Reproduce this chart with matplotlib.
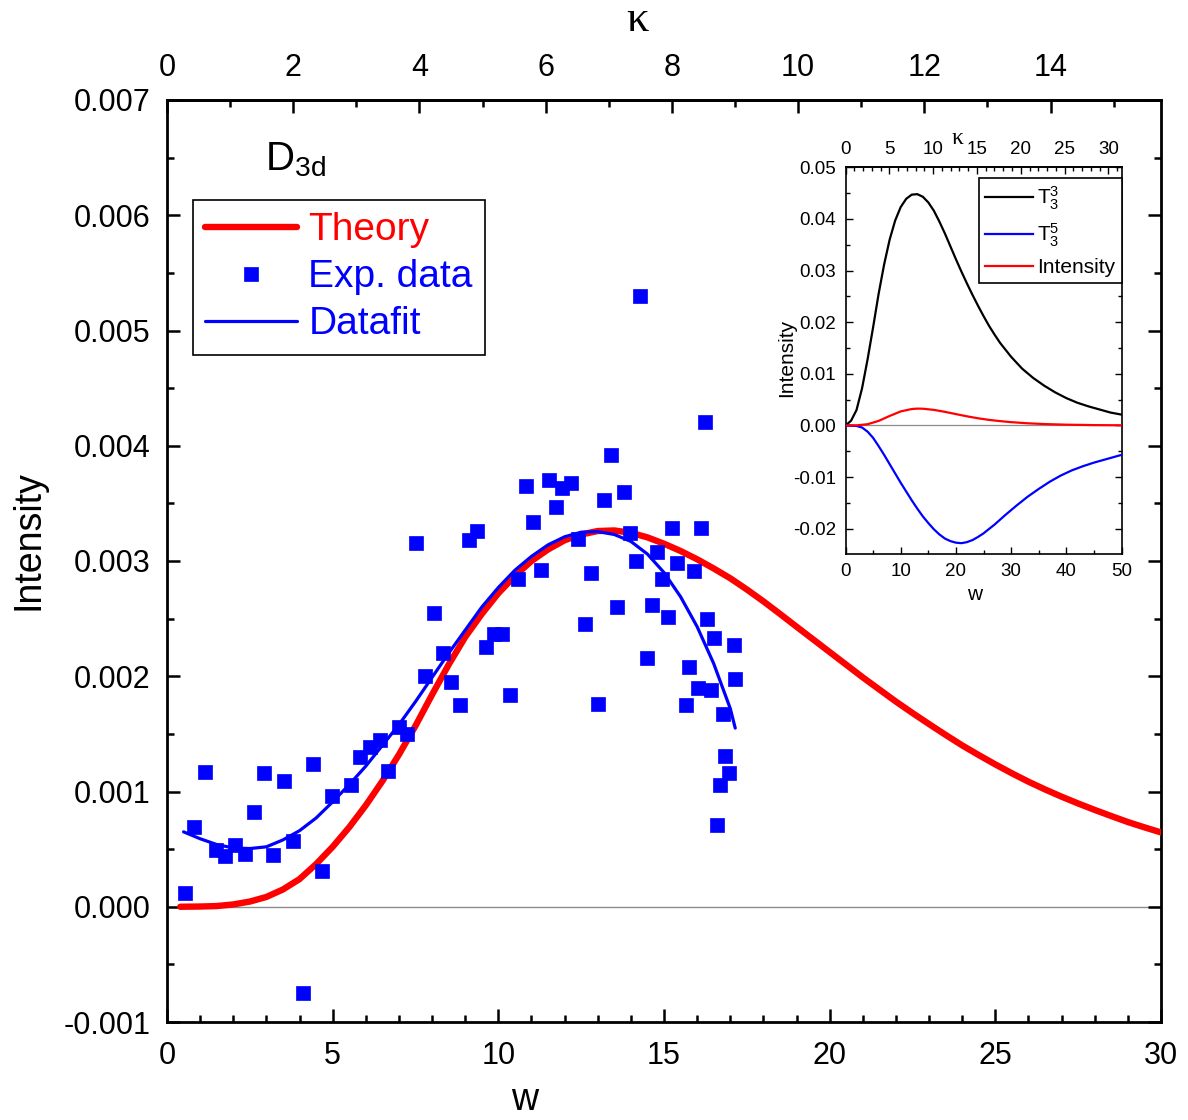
import numpy as np
import matplotlib
matplotlib.use("Agg")
import matplotlib.pyplot as plt
from matplotlib.ticker import MultipleLocator, FormatStrFormatter, FixedLocator

plt.rcParams['font.family'] = ['Liberation Sans', 'DejaVu Sans']

# ---------------- data (main panel, intensities in units of 1e-3) ----------------
theory_w = [0.4, 1.0, 1.5, 2.0, 2.5, 3.0, 3.5, 4.0, 4.5, 5.0, 5.5, 6.0, 6.5, 7.0, 7.5,
            8.0, 8.5, 9.0, 9.5, 10.0, 10.5, 11.0, 11.5, 12.0, 12.5, 13.0, 13.5, 14.0,
            14.5, 15.0, 15.5, 16.0, 16.5, 17.0, 17.5, 18.0, 18.5, 19.0, 19.5, 20.0,
            20.5, 21.0, 21.5, 22.0, 22.5, 23.0, 23.5, 24.0, 24.5, 25.0, 25.5, 26.0,
            26.5, 27.0, 27.5, 28.0, 28.5, 29.0, 29.5, 30.0]
theory_milli = [0.0, 0.002, 0.006, 0.02, 0.045, 0.085, 0.15, 0.24, 0.37, 0.52, 0.69, 0.88,
                1.09, 1.32, 1.57, 1.84, 2.10, 2.34, 2.54, 2.72, 2.87, 3.00, 3.10, 3.18,
                3.23, 3.26, 3.265, 3.245, 3.205, 3.15, 3.087, 3.015, 2.935, 2.85, 2.753,
                2.65, 2.541, 2.43, 2.32, 2.21, 2.10, 1.99, 1.885, 1.78, 1.681, 1.585,
                1.491, 1.40, 1.316, 1.235, 1.158, 1.085, 1.018, 0.955, 0.896, 0.84,
                0.787, 0.735, 0.689, 0.645]

fit_w = [0.5, 1.0, 1.5, 2.0, 2.5, 3.0, 3.5, 4.0, 4.5, 5.0, 5.5, 6.0, 6.5, 7.0, 7.5, 8.0,
         8.5, 9.0, 9.5, 10.0, 10.5, 11.0, 11.5, 12.0, 12.5, 13.0, 13.5, 14.0, 14.5,
         15.0, 15.5, 16.0, 16.5, 17.0, 17.15]
fit_milli = [0.65, 0.59, 0.54, 0.51, 0.505, 0.52, 0.58, 0.66, 0.77, 0.91, 1.06, 1.22,
             1.40, 1.58, 1.78, 1.99, 2.20, 2.40, 2.60, 2.77, 2.92, 3.04, 3.14, 3.21,
             3.25, 3.255, 3.23, 3.17, 3.06, 2.90, 2.69, 2.43, 2.11, 1.72, 1.55]

exp_w = [0.54, 0.82, 1.15, 1.48, 1.75, 2.05, 2.35, 2.62, 2.94, 3.21, 3.53, 3.81, 4.09,
         4.41, 4.69, 4.97, 5.55, 5.82, 6.12, 6.42, 6.66, 7.00, 7.25, 7.53, 7.78, 8.05,
         8.34, 8.57, 8.84, 9.12, 9.37, 9.62, 9.87, 10.10, 10.36, 10.60, 10.83, 11.05,
         11.28, 11.52, 11.75, 11.93, 12.19, 12.39, 12.63, 12.81, 13.01, 13.18, 13.41,
         13.59, 13.78, 13.97, 14.15, 14.28, 14.49, 14.64, 14.79, 14.94, 15.12, 15.25,
         15.39, 15.67, 15.75, 15.90, 16.04, 16.13, 16.23, 16.31, 16.41, 16.50, 16.61,
         16.68, 16.78, 16.85, 16.96, 17.11, 17.15]
exp_milli = [0.12, 0.69, 1.17, 0.49, 0.44, 0.54, 0.46, 0.82, 1.16, 0.45, 1.09, 0.57, -0.75,
             1.24, 0.31, 0.96, 1.06, 1.30, 1.39, 1.45, 1.18, 1.56, 1.50, 3.16, 2.00, 2.55,
             2.20, 1.95, 1.75, 3.18, 3.26, 2.25, 2.37, 2.37, 1.84, 2.84, 3.65, 3.34,
             2.92, 3.70, 3.47, 3.63, 3.68, 3.19, 2.45, 2.90, 1.76, 3.53, 3.92,
             2.60, 3.60, 3.24, 3.00, 5.30, 2.16, 2.62, 3.08, 2.84, 2.51, 3.29,
             2.98, 1.75, 2.08, 2.91, 1.90, 3.29, 4.21, 2.50, 1.88, 2.33, 0.71,
             1.06, 1.67, 1.31, 1.16, 2.27, 1.98]

kappa_ticks = [0, 2, 4, 6, 8, 10, 12, 14]

# ---------------- data (inset) ----------------
t33_w = [0, 1, 2, 3, 4, 5, 6, 7, 8, 9, 10, 11, 12, 13, 14, 15, 16, 17, 18, 19, 20, 21,
         22, 23, 24, 25, 26, 27, 28, 30, 32, 34, 36, 38, 40, 42, 44, 46, 48, 50]
t33_v = [0.0, 0.0009, 0.0030, 0.0072, 0.0128, 0.0190, 0.0255, 0.0312, 0.0360, 0.0397,
         0.0423, 0.0439, 0.0447, 0.0448, 0.0443, 0.0432, 0.0416, 0.0395, 0.0372, 0.0347,
         0.0322, 0.0298, 0.0275, 0.0253, 0.0232, 0.0212, 0.0193, 0.0176, 0.0160,
         0.0133, 0.0110, 0.0092, 0.0077, 0.0064, 0.0053, 0.0044, 0.0037, 0.0031,
         0.0025, 0.0021]

t35_w = [0, 2, 3, 4, 5, 6, 7, 8, 9, 10, 11, 12, 13, 14, 15, 16, 17, 18, 19, 20, 21, 22,
         23, 24, 25, 27, 29, 31, 33, 35, 37, 39, 41, 43, 45, 47, 50]
t35_v = [0.0, -0.0001, -0.0004, -0.0012, -0.0024, -0.0040, -0.0057, -0.0075, -0.0093,
         -0.0111, -0.0128, -0.0145, -0.0161, -0.0176, -0.0189, -0.0201, -0.0211,
         -0.0219, -0.0224, -0.0227, -0.0228, -0.0226, -0.0222, -0.0216, -0.0209,
         -0.0192, -0.0173, -0.0155, -0.0138, -0.0123, -0.0109, -0.0097, -0.0087,
         -0.0079, -0.0072, -0.0066, -0.0057]

inten_w = [0, 2, 4, 6, 8, 10, 12, 13, 14, 16, 18, 20, 22, 24, 26, 28, 30, 33, 36, 40,
           45, 50]
inten_v = [0.0, 0.00002, 0.00024, 0.00088, 0.00184, 0.00272, 0.00318, 0.00326, 0.00324,
           0.00302, 0.00264, 0.0022, 0.00177, 0.00139, 0.00108, 0.00084, 0.00064,
           0.00042, 0.00027, 0.00015, 0.00007, 0.00003]

inset_kappa_ticks = [0, 5, 10, 15, 20, 25, 30]

W = 1188
H = 1120
RED = '#FF0000'
BLUE = '#0000FF'

fig = plt.figure(figsize=(W / 100, H / 100), dpi=100)

# ---------------- main axes ----------------
ax = fig.add_axes([167 / W, (H - 1022) / H, 994 / W, 922 / H])
ax.axhline(0, color='#8c8c8c', lw=1.0, zorder=1)
ax.plot(theory_w, np.array(theory_milli) * 1e-3, color=RED, lw=4.6,
        solid_capstyle='round', label='Theory', zorder=3)
ax.plot(exp_w, np.array(exp_milli) * 1e-3, ls='none', marker='s', ms=10.5,
        mfc=BLUE, mec=BLUE, mew=0.5, label='Exp. data', zorder=4)
ax.plot(fit_w, np.array(fit_milli) * 1e-3, color=BLUE, lw=2.3,
        solid_capstyle='round', label='Datafit', zorder=5)

ax.set_xlim(0, 30)
ax.set_ylim(-0.001, 0.007)
ax.xaxis.set_major_locator(MultipleLocator(5))
ax.xaxis.set_minor_locator(MultipleLocator(1))
ax.yaxis.set_major_locator(MultipleLocator(0.001))
ax.yaxis.set_minor_locator(MultipleLocator(0.0005))
ax.yaxis.set_major_formatter(FormatStrFormatter('%.3f'))
for s in ax.spines.values():
    s.set_linewidth(2.0)
ax.tick_params(which='both', direction='in', top=False, right=True, width=1.8,
               labelsize=22)
ax.tick_params(axis='x', which='major', length=9.5, pad=14)
ax.tick_params(axis='y', which='major', length=9.5, pad=12)
ax.tick_params(which='minor', length=5)

sec = ax.secondary_xaxis('top', functions=(lambda w: w * 0.525, lambda k: k / 0.525))
sec.xaxis.set_major_locator(FixedLocator(kappa_ticks))
sec.xaxis.set_minor_locator(FixedLocator(list(range(1, 16, 2))))
sec.tick_params(which='both', direction='in', width=1.8, labelsize=22)
sec.tick_params(which='major', length=9.5, pad=12)
sec.tick_params(which='minor', length=5)
sec.spines['top'].set_linewidth(2.0)

leg = ax.legend(loc='upper left', bbox_to_anchor=(0.026, 0.8915), borderaxespad=0,
                fontsize=28, handlelength=2.35, handletextpad=0.3, labelspacing=0.28,
                borderpad=0.32, numpoints=1, fancybox=False, framealpha=1,
                edgecolor='black')
leg.get_frame().set_linewidth(1.2)
for t, c in zip(leg.get_texts(), [RED, BLUE, BLUE]):
    t.set_color(c)

ax.text(0.0986, 0.924, r'$\mathregular{D_{3d}}$', transform=ax.transAxes,
        fontsize=29, va='baseline', ha='left')

fig.text(28 / W, 1 - 540 / H, 'Intensity', rotation=90, ha='center', va='center',
         fontsize=27)
fig.text(525 / W, 1 - 1100 / H, 'w', ha='center', va='center', fontsize=27)
fig.text(637 / W, 1 - 20 / H, 'κ', ha='center', va='center', fontsize=32,
         family=['Liberation Serif', 'DejaVu Serif'])

# ---------------- inset ----------------
axi = fig.add_axes([845.5 / W, (H - 553.5) / H, 276 / W, 386.2 / H])
axi.axhline(0, color='#8c8c8c', lw=0.9, zorder=1)
axi.plot(t33_w, t33_v, color='black', lw=1.6, label=r'$\mathregular{T_3^3}$', zorder=3)
axi.plot(t35_w, t35_v, color=BLUE, lw=1.6, label=r'$\mathregular{T_3^5}$', zorder=3)
axi.plot(inten_w, inten_v, color=RED, lw=1.6, label='Intensity', zorder=3)
axi.set_xlim(0, 50)
axi.set_ylim(-0.0248, 0.05)
axi.xaxis.set_major_locator(MultipleLocator(10))
axi.xaxis.set_minor_locator(MultipleLocator(5))
axi.yaxis.set_major_locator(MultipleLocator(0.01))
axi.yaxis.set_minor_locator(MultipleLocator(0.005))
axi.yaxis.set_major_formatter(FormatStrFormatter('%.2f'))
for s in axi.spines.values():
    s.set_linewidth(1.2)
axi.tick_params(which='both', direction='in', top=False, right=True, width=1.0,
                labelsize=13.5, pad=7)
axi.tick_params(which='major', length=5)
axi.tick_params(which='minor', length=3)

seci = axi.secondary_xaxis('top', functions=(lambda w: w * 0.63, lambda k: k / 0.63))
seci.xaxis.set_major_locator(FixedLocator(inset_kappa_ticks))
seci.xaxis.set_minor_locator(FixedLocator([k for k in range(0, 32) if k % 5]))
seci.tick_params(which='both', direction='in', width=1.0, labelsize=13.5, pad=7)
seci.tick_params(which='major', length=5)
seci.tick_params(which='minor', length=3)
seci.spines['top'].set_linewidth(1.2)

legi = axi.legend(loc='upper right', bbox_to_anchor=(1.0, 0.972), borderaxespad=0,
                  fontsize=15, handlelength=2.3, handletextpad=0.2, labelspacing=0.45,
                  borderpad=0.3, fancybox=False, framealpha=1, edgecolor='black')
legi.get_frame().set_linewidth(1.2)

fig.text(787 / W, 1 - 358 / H, 'Intensity', rotation=90, ha='center', va='center',
         fontsize=15)
fig.text(975 / W, 1 - 595 / H, 'w', ha='center', va='center', fontsize=15)
fig.text(957 / W, 1 - 138 / H, 'κ', ha='center', va='center', fontsize=17,
         family=['Liberation Serif', 'DejaVu Serif'])

fig.savefig('out.png', dpi=100)
